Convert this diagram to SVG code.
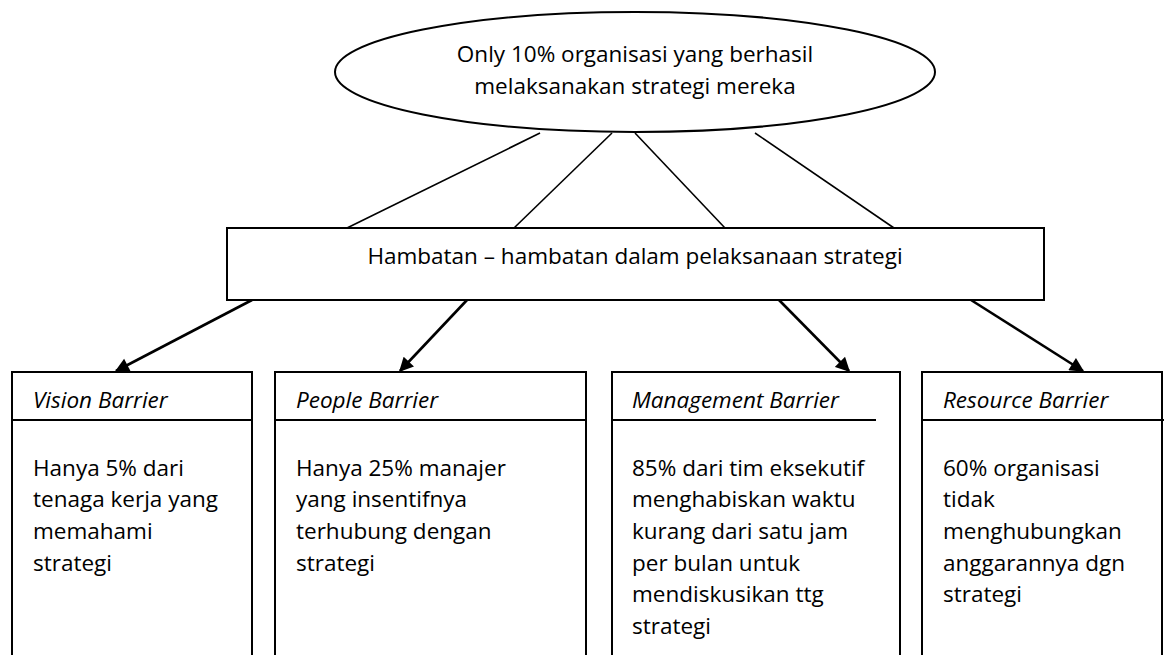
<svg xmlns="http://www.w3.org/2000/svg" width="1164" height="655" viewBox="0 0 1164 655">
<defs>
<style>
text{font-family:"Open Sans","Liberation Sans",sans-serif;font-size:22.5px;fill:#000}
.it{font-style:italic}
.shape{fill:#fff;stroke:#000;stroke-width:2}
.hl{stroke:#000;stroke-width:2}
.ln{stroke:#000;stroke-width:1.6;fill:none}
.ar{stroke:#000;stroke-width:2.6;fill:none;marker-end:url(#ah)}
</style>
<marker id="ah" viewBox="0 0 10 10" refX="9" refY="5" markerWidth="6" markerHeight="5.5" markerUnits="strokeWidth" orient="auto">
<path d="M0,0 L10,5 L0,10 z" fill="#000"/>
</marker>
</defs>
<rect width="1164" height="655" fill="#fff"/>
<g id="connectors">
<line class="ln" x1="540" y1="133" x2="347" y2="228"/>
<line class="ln" x1="612" y1="133" x2="514" y2="228"/>
<line class="ln" x1="635" y1="133" x2="725" y2="228"/>
<line class="ln" x1="755" y1="133" x2="894" y2="228"/>
<line class="ar" x1="252" y1="300" x2="116" y2="371"/>
<line class="ar" x1="467" y1="300" x2="400" y2="371"/>
<line class="ar" x1="779" y1="300" x2="849" y2="371"/>
<line class="ar" x1="971" y1="300" x2="1083" y2="371"/>
</g>
<g id="goal">
<ellipse class="shape" cx="635" cy="72" rx="300" ry="60"/>
<text x="635" y="62" text-anchor="middle">Only 10% organisasi yang berhasil</text>
<text x="635" y="94" text-anchor="middle">melaksanakan strategi mereka</text>
</g>
<g id="hambatan">
<rect class="shape" x="227" y="228" width="817" height="72"/>
<text x="635" y="264" text-anchor="middle">Hambatan – hambatan dalam pelaksanaan strategi</text>
</g>
<g id="vision">
<rect class="shape" x="12" y="372" width="240" height="300"/>
<line class="hl" x1="12" y1="420" x2="252" y2="420"/>
<text class="it" x="33" y="408">Vision Barrier</text>
<text x="33" y="475.5">Hanya 5% dari</text>
<text x="33" y="507">tenaga kerja yang</text>
<text x="33" y="539">memahami</text>
<text x="33" y="570.5">strategi</text>
</g>
<g id="people">
<rect class="shape" x="275" y="372" width="311" height="300"/>
<line class="hl" x1="275" y1="420" x2="586" y2="420"/>
<text class="it" x="296" y="408">People Barrier</text>
<text x="296" y="475.5">Hanya 25% manajer</text>
<text x="296" y="507">yang insentifnya</text>
<text x="296" y="539">terhubung dengan</text>
<text x="296" y="570.5">strategi</text>
</g>
<g id="management">
<rect class="shape" x="612" y="372" width="288" height="300"/>
<line class="hl" x1="612" y1="420" x2="876" y2="420"/>
<text class="it" x="632" y="408">Management Barrier</text>
<text x="632" y="475.5">85% dari tim eksekutif</text>
<text x="632" y="507">menghabiskan waktu</text>
<text x="632" y="539">kurang dari satu jam</text>
<text x="632" y="570.5">per bulan untuk</text>
<text x="632" y="602">mendiskusikan ttg</text>
<text x="632" y="634">strategi</text>
</g>
<g id="resource">
<rect class="shape" x="922" y="372" width="240" height="300"/>
<line class="hl" x1="922" y1="420" x2="1164" y2="420"/>
<text class="it" x="943" y="408">Resource Barrier</text>
<text x="943" y="475.5">60% organisasi</text>
<text x="943" y="507">tidak</text>
<text x="943" y="539">menghubungkan</text>
<text x="943" y="570.5">anggarannya dgn</text>
<text x="943" y="602">strategi</text>
</g>
</svg>
